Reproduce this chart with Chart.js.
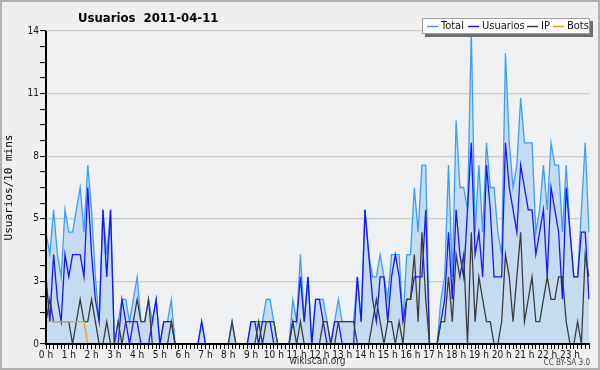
<!DOCTYPE html>
<html>
<head>
<meta charset="utf-8">
<script src="https://cdn.jsdelivr.net/npm/chart.js@4.4.1/dist/chart.umd.min.js"></script>
<style>
  html, body { margin: 0; padding: 0; background: #efefef; }
  canvas { display: block; }
</style>
</head>
<body>
<canvas id="myChart" width="600" height="370"></canvas>
<script>
// hour tick labels (one every 6 slots of 10 minutes)
var hourLabels = ['0 h', '1 h', '2 h', '3 h', '4 h', '5 h', '6 h', '7 h', '8 h', '9 h', '10 h', '11 h',
    '12 h', '13 h', '14 h', '15 h', '16 h', '17 h', '18 h', '19 h', '20 h', '21 h', '22 h', '23 h'];

// one row per hour, 6 values of 10 minutes each
var total = [
    5, 4, 6, 4, 3, 6,
    5, 5, 6, 7, 5, 8,
    6, 3, 1, 6, 4, 6,
    0, 1, 2, 2, 1, 2,
    3, 1, 1, 2, 1, 2,
    0, 1, 1, 2, 0, 0,
    0, 0, 0, 0, 0, 1,
    0, 0, 0, 0, 0, 0,
    0, 1, 0, 0, 0, 0,
    1, 1, 1, 1, 2, 2,
    1, 0, 0, 0, 0, 2,
    1, 4, 1, 3, 0, 2,
    2, 2, 1, 0, 1, 2,
    1, 1, 1, 1, 3, 1,
    6, 4, 3, 3, 4, 3,
    2, 4, 4, 4, 1, 4,
    4, 7, 5, 8, 8, 0,
    0, 0, 2, 3, 8, 3,
    10, 7, 7, 6, 14, 5,
    8, 5, 9, 7, 7, 5,
    4, 13, 9, 7, 8, 11,
    9, 9, 9, 5, 6, 8,
    6, 9, 8, 8, 5, 8,
    5, 3, 3, 6, 9, 5
];

var usuarios = [
    3, 1, 4, 2, 1, 4,
    3, 4, 4, 4, 3, 7,
    4, 2, 1, 6, 3, 6,
    0, 0, 2, 1, 0, 1,
    1, 0, 0, 0, 1, 2,
    0, 1, 1, 1, 0, 0,
    0, 0, 0, 0, 0, 1,
    0, 0, 0, 0, 0, 0,
    0, 0, 0, 0, 0, 0,
    1, 1, 0, 1, 1, 1,
    0, 0, 0, 0, 0, 1,
    1, 3, 1, 3, 0, 2,
    2, 1, 0, 0, 1, 1,
    0, 0, 0, 0, 3, 1,
    6, 4, 2, 1, 3, 3,
    1, 3, 4, 3, 1, 2,
    2, 3, 3, 3, 6, 0,
    0, 0, 1, 2, 5, 2,
    6, 4, 3, 6, 9, 4,
    5, 3, 8, 6, 3, 3,
    3, 9, 7, 6, 5, 8,
    7, 6, 6, 4, 5, 6,
    3, 7, 6, 5, 2, 7,
    5, 3, 3, 5, 5, 2
];

var ip = [
    1, 2, 1, 1, 1, 1,
    1, 0, 1, 2, 1, 1,
    2, 1, 0, 0, 1, 0,
    0, 1, 0, 1, 1, 1,
    2, 1, 1, 2, 0, 0,
    0, 0, 0, 1, 0, 0,
    0, 0, 0, 0, 0, 0,
    0, 0, 0, 0, 0, 0,
    0, 1, 0, 0, 0, 0,
    0, 0, 1, 0, 1, 1,
    1, 0, 0, 0, 0, 1,
    0, 1, 0, 0, 0, 0,
    0, 1, 1, 0, 0, 1,
    1, 1, 1, 1, 0, 0,
    0, 0, 1, 2, 1, 0,
    1, 1, 0, 1, 0, 2,
    2, 4, 1, 5, 2, 0,
    0, 0, 1, 1, 3, 1,
    4, 3, 4, 0, 5, 1,
    3, 2, 1, 1, 0, 0,
    1, 4, 3, 1, 3, 5,
    1, 2, 3, 1, 1, 2,
    3, 2, 2, 3, 3, 1,
    0, 0, 1, 0, 4, 3
];

var bots = [
    1, 1, 1, 1, 1, 1,
    1, 1, 1, 1, 1, 0,
    0, 0, 0, 0, 0, 0,
    0, 0, 0, 0, 0, 0,
    0, 0, 0, 0, 0, 0,
    0, 0, 0, 0, 0, 0,
    0, 0, 0, 0, 0, 0,
    0, 0, 0, 0, 0, 0,
    0, 0, 0, 0, 0, 0,
    0, 0, 0, 0, 0, 0,
    0, 0, 0, 0, 0, 0,
    0, 0, 0, 0, 0, 0,
    0, 0, 0, 0, 0, 0,
    0, 0, 0, 0, 0, 0,
    0, 0, 0, 0, 0, 0,
    0, 0, 0, 0, 0, 0,
    0, 0, 0, 0, 0, 0,
    0, 0, 0, 0, 0, 0,
    0, 0, 0, 0, 0, 0,
    0, 0, 0, 0, 0, 0,
    0, 0, 0, 0, 0, 0,
    0, 0, 0, 0, 0, 0,
    0, 0, 0, 0, 0, 0,
    0, 0, 0, 0, 0, 0
];

// y axis: gridlines every 2.8, labels as printed on the chart
var yTickLabels = ['0', '3', '5', '8', '11', '14'];
var yMax = 14;

var seriesNames = ['Total', 'Usuarios', 'IP', 'Bots'];
var seriesColors = ['#3d9ef6', '#1616ff', '#3c3c3c', '#f79a20'];

var cond = '"DejaVu Sans Condensed", "DejaVu Sans", sans-serif';

// 10-minute slots, label only on the hour
var slots = [];
hourLabels.forEach(function (h) {
    slots.push(h, '', '', '', '', '');
});

var decor = {
    id: 'decor',
    beforeDraw: function (chart) {
        var c = chart.ctx, a = chart.chartArea;
        c.save();
        c.fillStyle = '#efefef';
        c.fillRect(0, 0, chart.width, chart.height);
        c.fillStyle = '#eef0f2';
        c.fillRect(a.left, a.top, a.right - a.left, a.bottom - a.top);
        c.restore();
    },
    afterDatasetsDraw: function (chart) {
        // axis lines sit above the series
        var c = chart.ctx, a = chart.chartArea;
        c.save();
        c.strokeStyle = '#000';
        c.lineWidth = 2;
        c.beginPath();
        c.moveTo(a.left, a.top);
        c.lineTo(a.left, a.bottom);
        c.lineTo(a.right + 1, a.bottom);
        c.stroke();
        c.restore();
    },
    afterDraw: function (chart) {
        var c = chart.ctx;
        c.save();
        // frame
        c.strokeStyle = '#b0b0b0';
        c.lineWidth = 2;
        c.strokeRect(1, 1, chart.width - 2, chart.height - 2);

        // title
        c.fillStyle = '#000';
        c.font = 'bold 13px ' + cond;
        c.textBaseline = 'alphabetic';
        c.textAlign = 'left';
        c.fillText('Usuarios  2011-04-11', 78, 22);

        // legend box
        var bx = 422, by = 18, bw = 168, bh = 16;
        c.fillStyle = '#6e6e6e';
        c.fillRect(bx + 3, by + 3, bw, bh);
        c.fillStyle = '#fff';
        c.fillRect(bx, by, bw, bh);
        c.strokeStyle = '#a0a0a0';
        c.lineWidth = 1;
        c.strokeRect(bx + 0.5, by + 0.5, bw - 1, bh - 1);
        var samples = [427, 468, 527, 553];
        var texts = [441, 482, 541, 567];
        var ty = by + bh / 2 + 0.5;
        c.font = '11px ' + cond;
        c.textBaseline = 'middle';
        seriesNames.forEach(function (n, k) {
            c.strokeStyle = seriesColors[k];
            c.lineWidth = 1.5;
            c.beginPath();
            c.moveTo(samples[k], ty);
            c.lineTo(samples[k] + 11, ty);
            c.stroke();
            c.fillStyle = '#111';
            c.fillText(n, texts[k], ty);
        });

        // licence note
        c.font = '8px ' + cond;
        c.fillStyle = '#444';
        c.textAlign = 'right';
        c.textBaseline = 'alphabetic';
        c.fillText('CC BY-SA 3.0', 590, 365);
        c.restore();
    }
};

var ctx = document.getElementById('myChart').getContext('2d');
var myChart = new Chart(ctx, {
    type: 'line',
    data: {
        labels: slots,
        datasets: [{
            label: seriesNames[0],
            data: total,
            borderColor: seriesColors[0],
            backgroundColor: '#c5dbef',
            fill: 'origin',
            order: 4
        }, {
            label: seriesNames[1],
            data: usuarios,
            borderColor: seriesColors[1],
            fill: false,
            order: 3
        }, {
            label: seriesNames[2],
            data: ip,
            borderColor: seriesColors[2],
            fill: false,
            order: 2
        }, {
            label: seriesNames[3],
            data: bots,
            borderColor: seriesColors[3],
            fill: false,
            order: 1
        }]
    },
    options: {
        responsive: false,
        animation: false,
        events: [],
        layout: {
            padding: { left: 0, top: 31, right: 11, bottom: 0 }
        },
        elements: {
            point: { radius: 0 },
            line: { borderWidth: 1.3, tension: 0 }
        },
        plugins: {
            legend: { display: false },
            title: { display: false },
            tooltip: { enabled: false }
        },
        scales: {
            x: {
                offset: false,
                afterFit: function (s) { s.height = 26; },
                grid: {
                    drawOnChartArea: false,
                    tickLength: 5,
                    tickColor: '#000',
                    tickWidth: 1
                },
                border: { display: false },
                ticks: {
                    autoSkip: false,
                    maxRotation: 0,
                    minRotation: 0,
                    padding: 0,
                    color: '#111',
                    font: { family: cond, size: 10 }
                },
                title: {
                    display: true,
                    text: 'wikiscan.org',
                    color: '#333',
                    padding: { top: 0, bottom: 3 },
                    font: { family: cond, size: 10 }
                }
            },
            y: {
                min: 0,
                max: yMax,
                afterFit: function (s) { s.width = 46; },
                afterBuildTicks: function (s) {
                    var t = [];
                    for (var k = 0; k <= 20; k++) t.push({ value: yMax * k / 20 });
                    s.ticks = t;
                },
                grid: {
                    color: function (g) { return g.index % 4 === 0 ? '#cacaca' : 'rgba(0,0,0,0)'; },
                    lineWidth: 1.2,
                    tickLength: 6,
                    tickColor: '#000',
                    tickWidth: 1
                },
                border: { display: false },
                ticks: {
                    padding: 1,
                    color: '#111',
                    font: { family: cond, size: 10 },
                    callback: function (v, i) { return i % 4 === 0 ? yTickLabels[i / 4] : ''; }
                },
                title: {
                    display: true,
                    text: 'Usuarios/10 mins',
                    color: '#000',
                    padding: { top: 3, bottom: 0 },
                    font: { family: '"DejaVu Sans Mono", monospace', size: 11 }
                }
            }
        }
    },
    plugins: [decor]
});
</script>
</body>
</html>
